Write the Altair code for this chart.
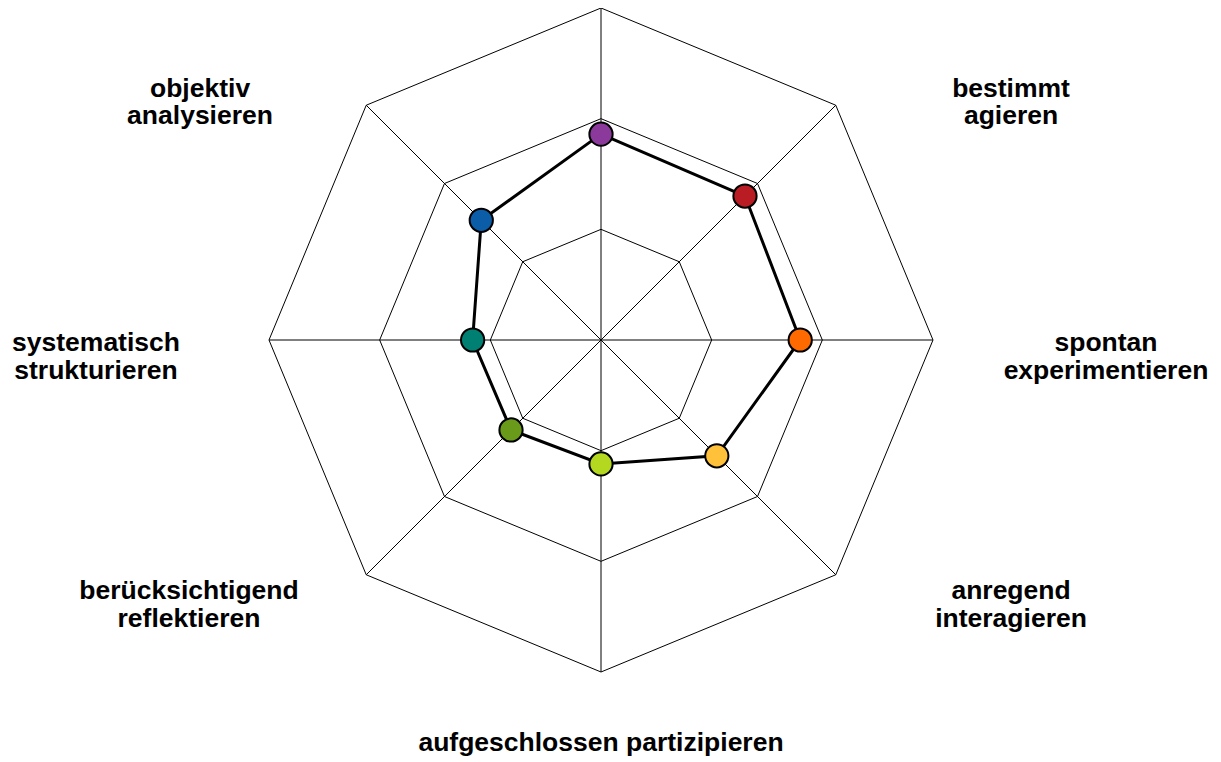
import altair as alt
import numpy as np
import pandas as pd

# ---- data (clockwise from the top axis) ----
categories = ["", "bestimmt agieren", "spontan experimentieren", "anregend interagieren",
              "aufgeschlossen partizipieren", "berücksichtigend reflektieren",
              "systematisch strukturieren", "objektiv analysieren"]
label_text = ["", "bestimmt\nagieren", "spontan\nexperimentieren", "anregend\ninteragieren",
              "aufgeschlossen partizipieren", "berücksichtigend\nreflektieren",
              "systematisch\nstrukturieren", "objektiv\nanalysieren"]
values = [1.86, 1.84, 1.80, 1.48, 1.12, 1.15, 1.16, 1.53]
colors = ["#8B3A9B", "#BA1C24", "#FF6A00", "#FFC03A", "#B4D81F", "#6A9A1A", "#008072", "#0C5DA8"]
ring_levels = [1, 2, 3]

# ---- layout constants (label anchor = first line centre, in value units) ----
label_dx = [0.0, 3.705, 4.563, 3.705, 0.0, -3.723, -4.563, -3.623]
label_dy = [0.0, 2.27, -0.03, -2.27, -3.641, -2.27, -0.03, 2.27]
R_MAX = 3
W, H = 1205, 749
UNIT = 110.67
CX, CY = 593, 332

n = len(categories)
ang = np.deg2rad(90 - np.arange(n) * 360.0 / n)

# grid rings
ring_rows = []
for lv in ring_levels:
    for k in range(n + 1):
        a = ang[k % n]
        ring_rows.append({"ring": lv, "ord": k, "x": lv * np.cos(a), "y": lv * np.sin(a)})
rings = pd.DataFrame(ring_rows)

spokes = pd.DataFrame({"x": 0.0, "y": 0.0,
                       "x2": R_MAX * np.cos(ang), "y2": R_MAX * np.sin(ang)})

pts = pd.DataFrame({"cat": categories, "v": values, "color": colors,
                    "x": np.array(values) * np.cos(ang), "y": np.array(values) * np.sin(ang),
                    "ord": range(n)})
poly = pd.concat([pts, pts.iloc[[0]].assign(ord=n)], ignore_index=True)

labels = pd.DataFrame({"text": label_text, "x": label_dx, "y": label_dy})
labels = labels[labels["text"] != ""]

xs = alt.Scale(domain=[-CX / UNIT, (W - CX) / UNIT], nice=False, zero=False)
ys = alt.Scale(domain=[-(H - CY) / UNIT, CY / UNIT], nice=False, zero=False)
X = lambda f="x": alt.X(f"{f}:Q", scale=xs, axis=None)
Y = lambda f="y": alt.Y(f"{f}:Q", scale=ys, axis=None)

grid = alt.Chart(rings).mark_line(color="black", strokeWidth=1).encode(
    x=X(), y=Y(), detail="ring:N", order="ord:Q")
spk = alt.Chart(spokes).mark_rule(color="black", strokeWidth=1).encode(
    x=X(), y=Y(), x2="x2:Q", y2="y2:Q")
line = alt.Chart(poly).mark_line(color="black", strokeWidth=3).encode(
    x=X(), y=Y(), order="ord:Q")
dots = alt.Chart(pts).mark_circle(size=540, opacity=1, stroke="black", strokeWidth=2).encode(
    x=X(), y=Y(), color=alt.Color("color:N", scale=None))
txt = alt.Chart(labels).mark_text(font="Liberation Sans", fontWeight="bold", fontSize=26.5,
                                  lineBreak="\n", lineHeight=27.5, align="center",
                                  baseline="middle", color="black").encode(
    x=X(), y=Y(), text="text:N")

chart = alt.layer(grid, spk, line, dots, txt).properties(
    width=W, height=H, autosize=alt.AutoSizeParams(type="none"), padding=0
).configure_view(stroke=None)

chart.save("out.html", embed_options={"renderer": "svg", "actions": False})
